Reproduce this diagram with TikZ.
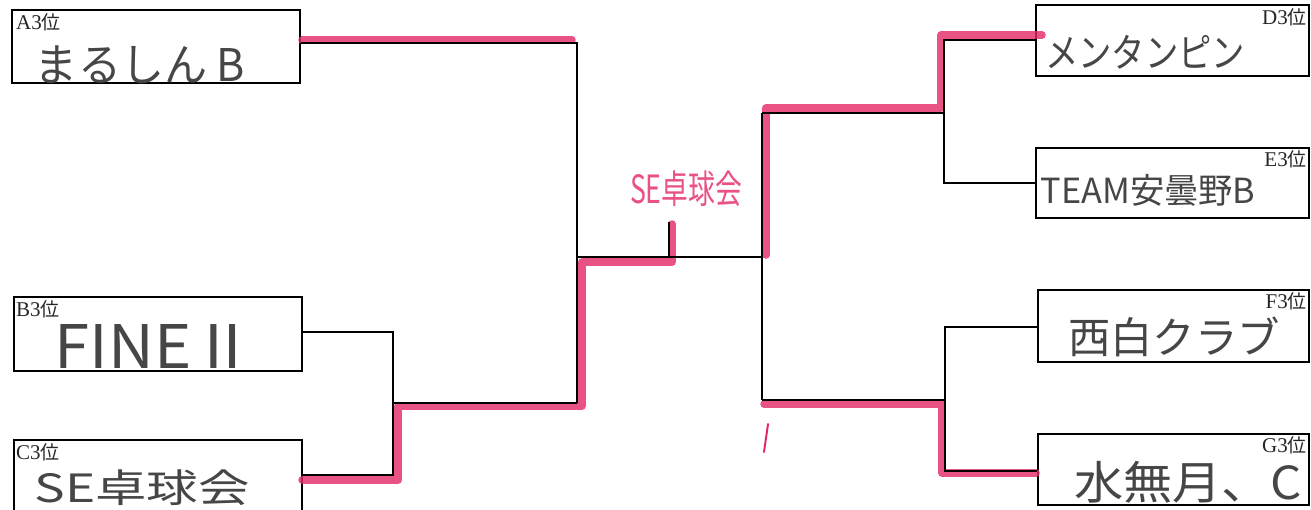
\documentclass[tikz,border=0pt]{standalone}
\usepackage{fontspec}
\usepackage{graphicx}
\setmainfont{Liberation Serif}
\newfontfamily\jp{Noto Sans CJK JP}
\definecolor{pen}{RGB}{70,70,70}
\definecolor{hl}{RGB}{228,40,100}
\tikzset{
  team/.style={draw=black, line width=1.6pt, fill=white, inner sep=0pt},
  wire/.style={draw=black, line width=1.6pt},
  hilite/.style={draw=hl, line width=7.5pt, opacity=0.8, line join=round, line cap=round},
  rank/.style={font=\fontsize{21}{21}\selectfont, inner sep=0pt, text=black!85},
  hand/.style={text=pen, inner sep=0pt}
}
\newcommand{\hw}[3]{\resizebox*{#1pt}{#2pt}{\jp #3}}
\newcommand{\ranktxt}[1]{#1{\jp\fontsize{19}{19}\selectfont 位}}
\begin{document}
\begin{tikzpicture}[x=1pt,y=-1pt]
\useasboundingbox (0,0) rectangle (1311,509);
\clip (0,0) rectangle (1311,509);
% boxes
\node[team, minimum width=288pt, minimum height=73pt] (A) at (156,46.5) {};
\node[team, minimum width=288pt, minimum height=74pt] (B) at (158,334) {};
\node[team, minimum width=288pt, minimum height=75pt] (C) at (158,477.5) {};
\node[team, minimum width=273pt, minimum height=71pt] (D) at (1172.5,40.5) {};
\node[team, minimum width=273pt, minimum height=70pt] (E) at (1172.5,183) {};
\node[team, minimum width=271pt, minimum height=72pt] (F) at (1173.5,326) {};
\node[team, minimum width=271pt, minimum height=71pt] (G) at (1173.5,469.5) {};
% junction coordinates
\coordinate (ja) at (577,43);
\coordinate (jl) at (577,403);
\coordinate (jb) at (393,332);
\coordinate (jc) at (393,475);
\coordinate (jbc) at (393,403);
\coordinate (lc) at (577,257);
\coordinate (rc) at (762,257);
\coordinate (tick) at (669,222);
\coordinate (tickb) at (669,257);
\coordinate (jde) at (762,113);
\coordinate (jfg) at (762,400);
\coordinate (jd) at (944,40);
\coordinate (je) at (944,183);
\coordinate (jdm) at (944,113);
\coordinate (jf) at (945,327);
\coordinate (jg) at (945,471);
\coordinate (jfm) at (945,400);
% highlights
\draw[hilite] (302,40) -- (572,40);
\draw[hilite] (302,480) -- (398,480) -- (398,406) -- (582,406) -- (582,262) -- (672,262) -- (672,224);
\draw[hilite] (1042,35) -- (941,35) -- (941,108) -- (766,108) -- (766,255);
\draw[hilite] (764,404) -- (942,404) -- (942,473) -- (1036,473);
\draw[draw=hl, line width=2pt, line cap=round] (764,452) -- (768,424);
% black bracket lines
\draw[wire] (A.east |- ja) -- (ja) -- (jl);
\draw[wire] (B.east |- jb) -- (jb) -- (jc) -- (C.east |- jc);
\draw[wire] (jbc) -- (jl);
\draw[wire] (lc) -- (rc);
\draw[wire] (tickb) -- (tick);
\draw[wire] (jde) -- (jfg);
\draw[wire] (jde) -- (jdm);
\draw[wire] (D.west |- jd) -- (jd) -- (je) -- (E.west |- je);
\draw[wire] (jfg) -- (jfm);
\draw[wire] (F.west |- jf) -- (jf) -- (jg) -- (G.west |- jg);
% rank labels
\node[rank, anchor=north west] (la) at (16,13) {\ranktxt{A3}};
\node[rank, anchor=north west] (lb) at (16,300) {\ranktxt{B3}};
\node[rank, anchor=north west] (lcc) at (16,443) {\ranktxt{C3}};
\node[rank, anchor=north east] (ld) at (1307,8) {\ranktxt{D3}};
\node[rank, anchor=north east] (le) at (1307,150) {\ranktxt{E3}};
\node[rank, anchor=north east] (lf) at (1307,292) {\ranktxt{F3}};
\node[rank, anchor=north east] (lg) at (1307,436) {\ranktxt{G3}};
% handwritten names
\node[hand] (na) at (140,65) {\hw{210}{38}{まるしん B}};
\node[hand] (nb) at (155,346) {\hw{200}{44}{FINEⅡ}};
\node[hand] (nc) at (142,488) {\hw{215}{36}{SE卓球会}};
\node[hand] (nd) at (1145,52) {\hw{200}{34}{メンタンピン}};
\node[hand] (ne) at (1148,190) {\hw{215}{32}{TEAM安曇野B}};
\node[hand] (nf) at (1174,337) {\hw{212}{40}{西白クラブ}};
\node[hand] (ng) at (1188,482) {\hw{228}{42}{水無月、C}};
% pink note
\node[text=hl, inner sep=0pt, opacity=0.8] (note) at (686,189) {\hw{112}{36}{SE卓球会}};
\end{tikzpicture}
\end{document}
